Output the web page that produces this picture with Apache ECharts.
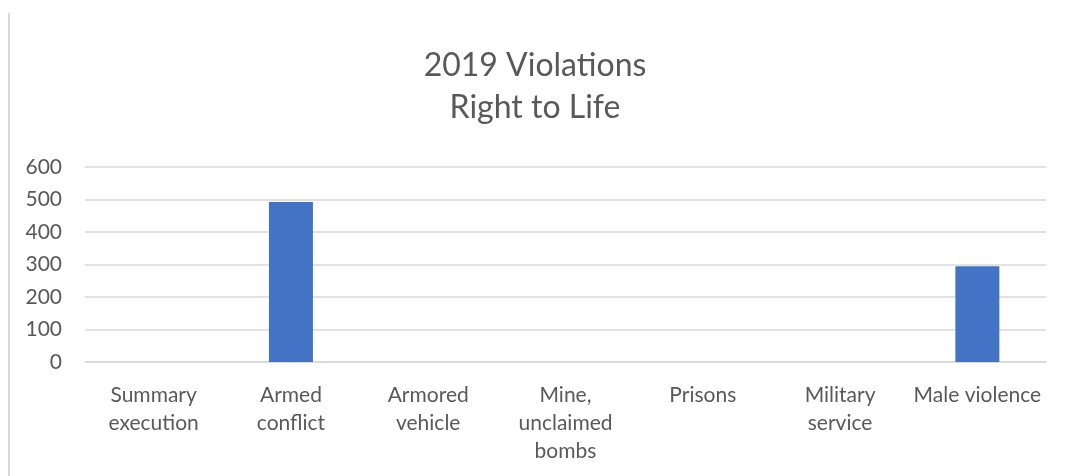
<!DOCTYPE html>
<html>
<head>
<meta charset="utf-8">
<script src="https://cdn.jsdelivr.net/npm/echarts@6/dist/echarts.min.js"></script>
<style>
  html, body { margin: 0; padding: 0; background: #fff; }
  #main { width: 1070px; height: 476px; }
</style>
</head>
<body>
<div id="main"></div>
<script>
var categories = ['Summary\nexecution', 'Armed\nconflict', 'Armored\nvehicle', 'Mine,\nunclaimed\nbombs', 'Prisons', 'Military\nservice', 'Male violence'];
var violations = [0, 492, 0, 0, 0, 0, 295];
var titleText = '2019 Violations\nRight to Life';

var myChart = echarts.init(document.getElementById('main'), null, { renderer: 'canvas' });

var option = {
    animation: false,
    title: {
        text: titleText,
        left: 'center',
        top: 40,
        textStyle: {
            fontFamily: 'Lato',
            fontSize: 32,
            fontWeight: 'normal',
            color: '#595959',
            lineHeight: 42
        }
    },
    graphic: [
        { type: 'line', shape: { x1: 9, y1: 13, x2: 9, y2: 476 }, style: { stroke: '#d9d9d9', lineWidth: 2 } }
    ],
    grid: { left: 85, right: 24, top: 167, bottom: 114 },
    xAxis: {
        type: 'category',
        data: categories,
        axisLine: { lineStyle: { color: '#d9d9d9', width: 1.5 } },
        axisTick: { show: false },
        axisLabel: {
            interval: 0,
            margin: 19,
            fontFamily: 'Lato',
            fontSize: 21,
            color: '#595959',
            lineHeight: 28
        }
    },
    yAxis: {
        type: 'value',
        min: 0,
        max: 600,
        interval: 100,
        axisLine: { show: false },
        axisTick: { show: false },
        splitLine: { lineStyle: { color: '#d9d9d9', width: 1.5 } },
        axisLabel: {
            margin: 23,
            fontFamily: 'Lato',
            fontSize: 21,
            color: '#595959'
        }
    },
    series: [{
        type: 'bar',
        data: violations,
        barWidth: 44,
        itemStyle: { color: '#4472c4' }
    }]
};

myChart.setOption(option);
window.addEventListener('resize', myChart.resize);
</script>
</body>
</html>
